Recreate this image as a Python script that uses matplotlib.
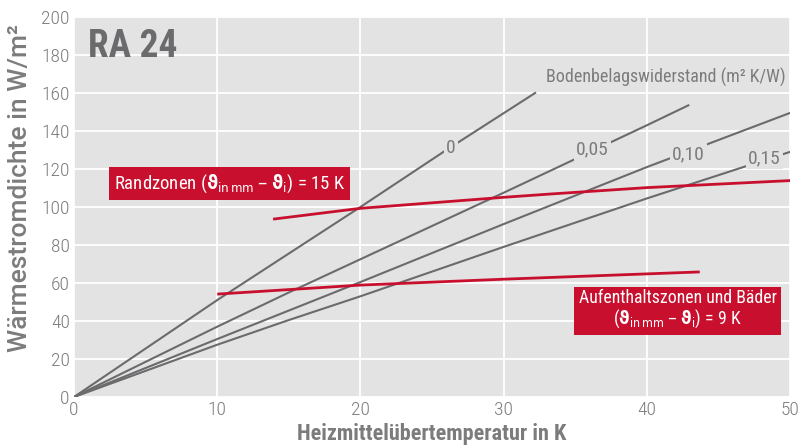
import matplotlib.pyplot as plt
import numpy as np

plt.rcParams['font.family'] = ['DejaVu Sans Condensed', 'Roboto Condensed', 'DejaVu Sans']
plt.rcParams['font.stretch'] = 'condensed'

# Bodenbelagswiderstand curves (W/m² over K)
r0_x = [0, 10, 15, 20, 26, 32.2]
r0_y = [0, 51, 75.5, 100, 130, 160]
r05_x = [0, 10, 15, 20, 30, 40, 42.9]
r05_y = [0, 37, 55, 72.5, 107.5, 143, 153.5]
r10_x = [0, 10, 15, 20, 30, 40, 50]
r10_y = [0, 30.5, 45.5, 60.5, 91, 121, 149.5]
r15_x = [0, 10, 15, 20, 30, 40, 50]
r15_y = [0, 27.5, 40.5, 53, 79, 104.5, 129]

# limit curves
rand_x = [14.0, 20, 30, 33.2, 40, 50]
rand_y = [93.7, 99.3, 105.1, 106.8, 110.2, 113.9]
auf_x = [10.1, 20, 30, 43.6]
auf_y = [54.2, 58.9, 62.0, 65.8]

grey = '#6b6b6d'
red = '#c8102e'
bg = '#e3e3e3'
txt = '#7c7c7c'

fig = plt.figure(figsize=(8.01, 4.48), dpi=100)
ax = fig.add_axes([74/801, 51/448, 716/801, 380/448])
ax.set_facecolor(bg)
ax.set_xlim(0, 50)
ax.set_ylim(0, 200)
ax.set_xticks(range(0, 51, 10))
ax.set_yticks(range(0, 201, 20))
ax.grid(color='white', lw=1.3)
ax.set_axisbelow(True)
for s in ax.spines.values():
    s.set_visible(False)
ax.tick_params(length=0, labelsize=14, labelcolor=txt, pad=3)
for t in ax.get_xticklabels() + ax.get_yticklabels():
    t.set_fontweight('light')

for xs, ys in [(r0_x, r0_y), (r05_x, r05_y), (r10_x, r10_y), (r15_x, r15_y)]:
    ax.plot(xs, ys, color=grey, lw=1.5, zorder=2)

ax.plot(rand_x, rand_y, color=red, lw=2, zorder=3)
ax.plot(auf_x, auf_y, color=red, lw=2, zorder=3)

lab = dict(fontsize=14, color=txt, ha='center', va='center', zorder=4,
           bbox=dict(facecolor=bg, edgecolor='none', pad=1.5))
ax.text(26.3, 131, '0', **lab)
ax.text(36.2, 130.3, '0,05', **lab)
ax.text(42.9, 127.9, '0,10', **lab)
ax.text(48.2, 125.6, '0,15', **lab)
ax.text(49.7, 168.4, 'Bodenbelagswiderstand (m² K/W)', fontsize=13, color=txt,
        ha='right', va='center')

ax.text(1.0, 184.7, 'RA 24', fontsize=27, fontweight='bold', color=grey,
        ha='left', va='center')

box = dict(facecolor=red, edgecolor='none', pad=3.5)
ax.text(2.8, 112.4,
        r'Randzonen ($\mathbf{\vartheta}_{\mathrm{in\,mm}}$ – $\mathbf{\vartheta}_{\mathrm{i}}$) = 15 K',
        fontsize=13.5, color='white', ha='left', va='center', bbox=box, zorder=5)
ax.text(42.15, 46,
        'Aufenthaltszonen und Bäder\n'
        r'($\mathbf{\vartheta}_{\mathrm{in\,mm}}$ – $\mathbf{\vartheta}_{\mathrm{i}}$) = 9 K',
        fontsize=12.8, color='white', ha='center', va='center', bbox=box,
        linespacing=1.0, zorder=5)

ax.set_xlabel('Heizmittelübertemperatur in K', fontsize=16, color=txt,
              fontweight='bold', labelpad=3)
ax.set_ylabel('Wärmestromdichte in W/m²', fontsize=19, color=txt,
              family=['Roboto', 'DejaVu Sans'], stretch='normal', fontweight='medium')
ax.yaxis.set_label_coords(-0.058, 0.55)

fig.savefig('out.png', dpi=100)
